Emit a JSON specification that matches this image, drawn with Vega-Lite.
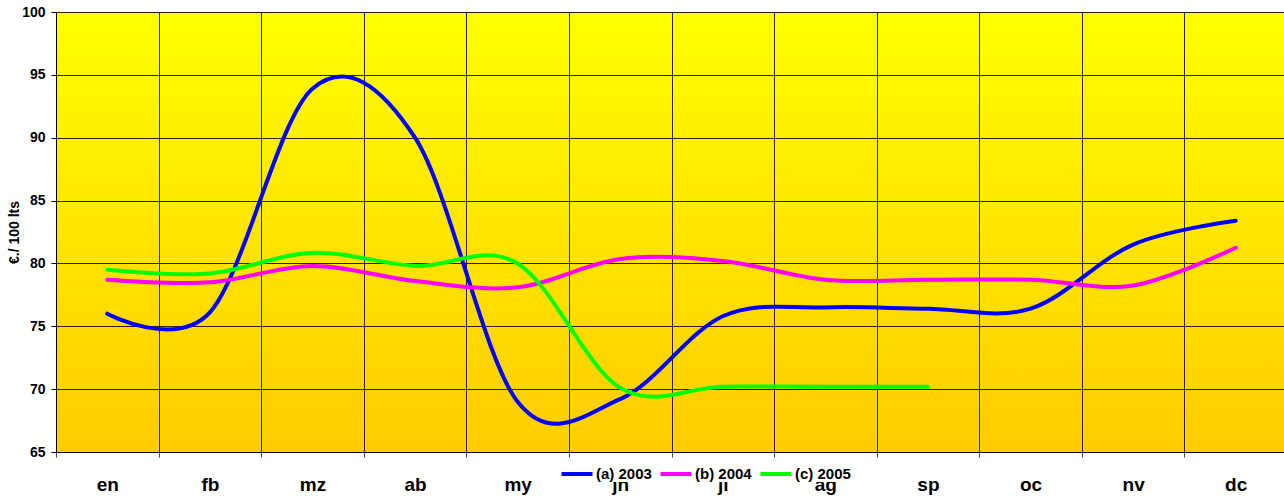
{
  "$schema": "https://vega.github.io/schema/vega-lite/v6.json",
  "autosize": "none",
  "width": 1231,
  "height": 440,
  "padding": {"left": 56, "top": 12, "right": 0, "bottom": 48},
  "background": "white",
  "config": {
    "view": {"stroke": null, "fill": {"gradient": "linear", "x1": 0, "y1": 0, "x2": 0, "y2": 1, "stops": [{"offset": 0, "color": "#FFFF00"}, {"offset": 1, "color": "#FFCC00"}]}},
    "font": "Liberation Sans"
  },
  "data": {"values": [
    {"mes": "en", "serie": "(a) 2003", "v": 76.0},
    {"mes": "fb", "serie": "(a) 2003", "v": 76.1},
    {"mes": "mz", "serie": "(a) 2003", "v": 93.9},
    {"mes": "ab", "serie": "(a) 2003", "v": 90.0},
    {"mes": "my", "serie": "(a) 2003", "v": 69.0},
    {"mes": "jn", "serie": "(a) 2003", "v": 69.2},
    {"mes": "jl", "serie": "(a) 2003", "v": 75.8},
    {"mes": "ag", "serie": "(a) 2003", "v": 76.5},
    {"mes": "sp", "serie": "(a) 2003", "v": 76.4},
    {"mes": "oc", "serie": "(a) 2003", "v": 76.4},
    {"mes": "nv", "serie": "(a) 2003", "v": 81.5},
    {"mes": "dc", "serie": "(a) 2003", "v": 83.4},
    {"mes": "en", "serie": "(b) 2004", "v": 78.7},
    {"mes": "fb", "serie": "(b) 2004", "v": 78.5},
    {"mes": "mz", "serie": "(b) 2004", "v": 79.8},
    {"mes": "ab", "serie": "(b) 2004", "v": 78.6},
    {"mes": "my", "serie": "(b) 2004", "v": 78.1},
    {"mes": "jn", "serie": "(b) 2004", "v": 80.35},
    {"mes": "jl", "serie": "(b) 2004", "v": 80.2},
    {"mes": "ag", "serie": "(b) 2004", "v": 78.7},
    {"mes": "sp", "serie": "(b) 2004", "v": 78.7},
    {"mes": "oc", "serie": "(b) 2004", "v": 78.7},
    {"mes": "nv", "serie": "(b) 2004", "v": 78.25},
    {"mes": "dc", "serie": "(b) 2004", "v": 81.25},
    {"mes": "en", "serie": "(c) 2005", "v": 79.5},
    {"mes": "fb", "serie": "(c) 2005", "v": 79.2},
    {"mes": "mz", "serie": "(c) 2005", "v": 80.85},
    {"mes": "ab", "serie": "(c) 2005", "v": 79.8},
    {"mes": "my", "serie": "(c) 2005", "v": 80.0},
    {"mes": "jn", "serie": "(c) 2005", "v": 70.1},
    {"mes": "jl", "serie": "(c) 2005", "v": 70.2},
    {"mes": "ag", "serie": "(c) 2005", "v": 70.2},
    {"mes": "sp", "serie": "(c) 2005", "v": 70.2}
  ]},
  "mark": {"type": "line", "interpolate": "cardinal", "strokeWidth": 4, "strokeCap": "round"},
  "encoding": {
    "x": {
      "field": "mes", "type": "nominal",
      "sort": ["en", "fb", "mz", "ab", "my", "jn", "jl", "ag", "sp", "oc", "nv", "dc"],
      "scale": {"paddingInner": 0, "paddingOuter": 0},
      "axis": {
        "title": null, "labelAngle": 0, "tickBand": "extent",
        "labelFont": "Liberation Sans", "labelFontWeight": "bold", "labelFontSize": 19, "labelColor": "black",
        "labelPadding": 18, "tickSize": 5, "tickColor": "#444444", "domainColor": "black",
        "grid": true, "gridColor": "black", "gridWidth": 1, "gridOpacity": 0.85
      }
    },
    "y": {
      "field": "v", "type": "quantitative",
      "scale": {"domain": [65, 100], "nice": false, "zero": false},
      "axis": {
        "title": "€./ 100 lts", "titleFont": "Liberation Sans", "titleFontWeight": "bold", "titleFontSize": 14, "titleColor": "black", "titlePadding": 0,
        "values": [65, 70, 75, 80, 85, 90, 95, 100],
        "labelFont": "Liberation Sans", "labelFontWeight": "bold", "labelFontSize": 14, "labelColor": "black",
        "labelPadding": 6, "tickSize": 5, "tickColor": "black", "domainColor": "black",
        "grid": true, "gridColor": "black", "gridWidth": 1, "gridOpacity": 0.85
      }
    },
    "color": {
      "field": "serie", "type": "nominal",
      "scale": {"domain": ["(a) 2003", "(b) 2004", "(c) 2005"], "range": ["#0000FF", "#FF00FF", "#00FF00"]},
      "legend": {
        "title": null, "orient": "none", "direction": "horizontal", "legendX": 509, "legendY": 450,
        "symbolType": "M-1.55,0H1.55", "symbolSize": 400, "symbolStrokeWidth": 4, "labelOffset": 7, "columnPadding": 0,
        "labelFont": "Liberation Sans", "labelFontWeight": "bold", "labelFontSize": 15, "labelColor": "black",
        "fillColor": "white", "padding": 0
      }
    }
  }
}
